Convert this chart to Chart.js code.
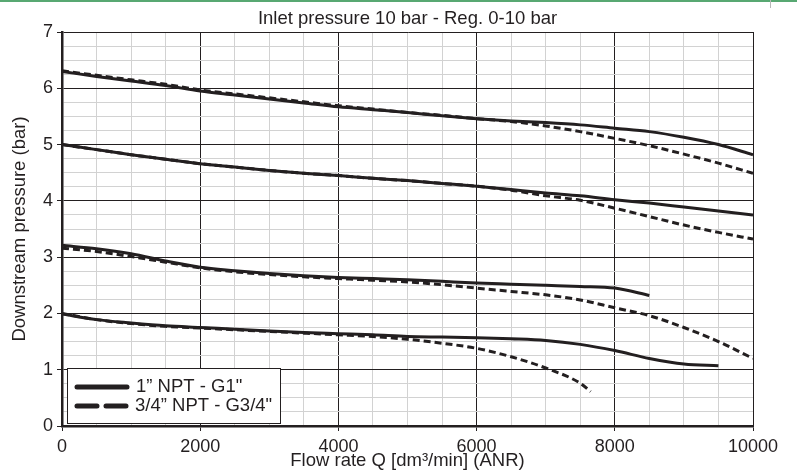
<!DOCTYPE html>
<html lang="en">
<head>
    <meta charset="UTF-8">
    <title>Downstream pressure vs flow rate</title>
    <script src="https://cdn.jsdelivr.net/npm/chart.js"></script>
    <style>
        body { margin: 0; background: #fff; }
        canvas { display: block; }
    </style>
</head>
<body>
<canvas id="chart" width="797" height="472"></canvas>

<script>
    // flow rate Q (dm3/min), shared by all curves; null = no point there
    const flow = [0, 500, 1000, 1500, 2000, 2500, 3000, 3500, 4000, 4500, 5000, 5500,
                  6000, 6500, 7000, 7500, 7650, 8000, 8500, 9000, 9500, 10000];

    // 1" NPT - G1" (solid)
    const g1_63 = [6.30, 6.21, 6.13, 6.05, 5.95, 5.88, 5.81, 5.74, 5.67, 5.62, 5.57, 5.51,
                   5.46, 5.42, 5.39, 5.35, null, 5.29, 5.23, 5.13, 5.00, 4.82];
    const g1_50 = [5.00, 4.91, 4.82, 4.74, 4.66, 4.60, 4.54, 4.49, 4.45, 4.40, 4.36, 4.31,
                   4.26, 4.20, 4.14, 4.09, null, 4.02, 3.96, 3.89, 3.82, 3.75];
    const g1_32 = [3.21, 3.15, 3.06, 2.93, 2.82, 2.76, 2.71, 2.67, 2.64, 2.62, 2.60, 2.57,
                   2.54, 2.52, 2.50, 2.48, null, 2.45, 2.32, null, null, null];
    const g1_20 = [1.99, 1.89, 1.83, 1.78, 1.75, 1.72, 1.69, 1.66, 1.64, 1.62, 1.59, 1.58,
                   1.57, 1.55, 1.52, 1.45, null, 1.34, 1.20, 1.10, 1.07, null];

    // 3/4" NPT - G3/4" (dashed)
    const g34_63 = [6.31, 6.23, 6.15, 6.07, 5.97, 5.90, 5.83, 5.76, 5.69, 5.63, 5.57, 5.52,
                    5.46, 5.41, 5.33, 5.23, null, 5.11, 4.98, 4.83, 4.67, 4.49];
    const g34_50 = [5.00, 4.91, 4.82, 4.74, 4.66, 4.60, 4.54, 4.49, 4.45, 4.40, 4.36, 4.31,
                    4.26, 4.19, 4.09, 4.01, null, 3.87, 3.72, 3.57, 3.44, 3.32];
    const g34_32 = [3.16, 3.10, 3.01, 2.91, 2.81, 2.74, 2.69, 2.65, 2.62, 2.59, 2.56, 2.51,
                    2.45, 2.39, 2.33, 2.24, null, 2.10, 1.96, 1.75, 1.50, 1.20];
    const g34_20 = [2.00, 1.89, 1.82, 1.77, 1.74, 1.71, 1.68, 1.65, 1.62, 1.59, 1.54, 1.47,
                    1.38, 1.23, 1.03, 0.76, 0.61, null, null, null, null, null];

    const seriesNames = ['1\u201D NPT - G1"', '3/4\u201D NPT - G3/4"'];
    const chartTitle = 'Inlet pressure 10 bar - Reg. 0-10 bar';
    const xTitle = 'Flow rate Q [dm\u00B3/min] (ANR)';
    const yTitle = 'Downstream pressure (bar)';

    const ink = '#231f20';
    const minorGrid = '#d2d2d2';
    const font = '"Liberation Sans", Arial, Helvetica, sans-serif';

    const toPoints = (ys) => flow.map((x, i) => ({ x: x, y: ys[i] }));

    const solid = (ys) => ({
        label: seriesNames[0],
        data: toPoints(ys),
        borderColor: ink,
        borderWidth: 3,
        pointRadius: 0,
        fill: false,
        spanGaps: true,
        cubicInterpolationMode: 'monotone'
    });
    const dashed = (ys) => ({
        label: seriesNames[1],
        data: toPoints(ys),
        borderColor: ink,
        borderWidth: 3,
        borderDash: [7, 4],
        pointRadius: 0,
        fill: false,
        spanGaps: true,
        cubicInterpolationMode: 'monotone'
    });

    // title, legend box and the green page rule
    const extras = {
        id: 'extras',
        afterDraw(chart) {
            const c = chart.ctx;
            const area = chart.chartArea;
            c.save();
            c.fillStyle = '#58a872';
            c.fillRect(0, 0, chart.width, 2);
            c.fillStyle = '#b8b8b8';
            c.fillRect(770, 0, 1, 8);

            c.fillStyle = ink;
            c.font = '18.5px ' + font;
            c.textAlign = 'center';
            c.textBaseline = 'middle';
            c.fillText(chartTitle, (area.left + area.right) / 2, 19);

            // legend
            const bx = 67, by = 368, bw = 213, bh = 55;
            c.fillStyle = '#fff';
            c.fillRect(bx, by, bw, bh);
            c.strokeStyle = ink;
            c.lineWidth = 1;
            c.strokeRect(bx + 0.5, by + 0.5, bw, bh);

            c.lineWidth = 5;
            c.lineCap = 'round';
            c.beginPath();
            c.moveTo(77, 387);
            c.lineTo(127, 387);
            c.stroke();
            c.setLineDash([20, 9]);
            c.beginPath();
            c.moveTo(77, 406);
            c.lineTo(127, 406);
            c.stroke();
            c.setLineDash([]);

            c.fillStyle = ink;
            c.font = '18.5px ' + font;
            c.textAlign = 'left';
            c.fillText(seriesNames[0], 136, 387);
            c.fillText(seriesNames[1], 135, 406);
            c.restore();
        }
    };

    const ctx = document.getElementById('chart').getContext('2d');
    const chart = new Chart(ctx, {
        type: 'line',
        data: {
            datasets: [
                solid(g1_63), solid(g1_50), solid(g1_32), solid(g1_20),
                dashed(g34_63), dashed(g34_50), dashed(g34_32), dashed(g34_20)
            ]
        },
        options: {
            responsive: false,
            animation: false,
            devicePixelRatio: 1,
            layout: { padding: { top: 32, right: 44, bottom: 0, left: 0 } },
            plugins: {
                legend: { display: false },
                title: { display: false },
                tooltip: { enabled: false }
            },
            scales: {
                x: {
                    type: 'linear',
                    min: 0,
                    max: 10000,
                    afterFit: (s) => { s.height = 46; },
                    ticks: {
                        stepSize: 500,
                        autoSkip: false,
                        maxRotation: 0,
                        padding: 5,
                        color: ink,
                        font: { family: font, size: 18 },
                        callback: (v) => (v % 2000 === 0 ? String(v) : '')
                    },
                    grid: {
                        color: (c) => (c.tick && c.tick.value % 2000 === 0 ? ink : minorGrid),
                        tickColor: (c) => (c.tick && c.tick.value % 2000 === 0 ? ink : 'rgba(0,0,0,0)'),
                        lineWidth: 1,
                        tickLength: 5
                    },
                    border: { color: ink, width: 2.5 },
                    title: {
                        display: true,
                        text: xTitle,
                        color: ink,
                        font: { family: font, size: 18.5 },
                        padding: { top: 0, bottom: 0 }
                    }
                },
                y: {
                    type: 'linear',
                    min: 0,
                    max: 7,
                    afterFit: (s) => { s.width = 62; },
                    ticks: {
                        stepSize: 0.25,
                        autoSkip: false,
                        padding: 4,
                        color: ink,
                        font: { family: font, size: 18 },
                        callback: (v) => (v % 1 === 0 ? String(v) : '')
                    },
                    grid: {
                        color: (c) => (c.tick && c.tick.value % 1 === 0 ? ink : minorGrid),
                        tickColor: (c) => (c.tick && c.tick.value % 1 === 0 ? ink : 'rgba(0,0,0,0)'),
                        lineWidth: 1,
                        tickLength: 5
                    },
                    border: { color: ink, width: 2.5 },
                    title: {
                        display: true,
                        text: yTitle,
                        color: ink,
                        font: { family: font, size: 18.5 },
                        padding: { top: 9, bottom: 0 }
                    }
                }
            }
        },
        plugins: [extras]
    });
</script>
</body>
</html>
